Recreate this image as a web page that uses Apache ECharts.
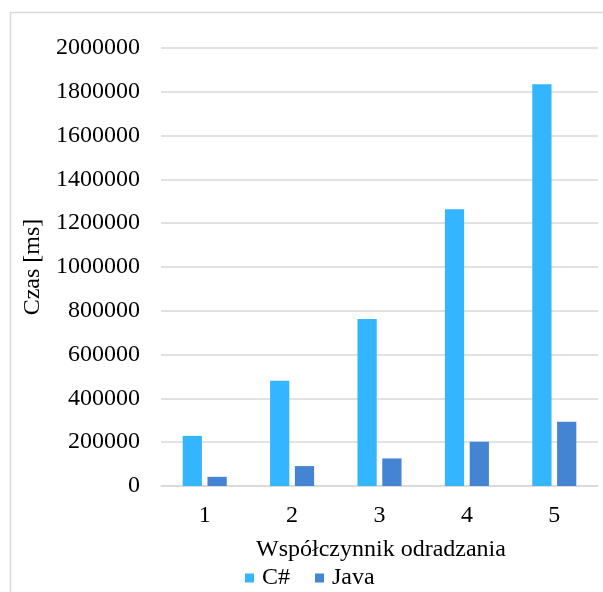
<!DOCTYPE html>
<html>
<head>
<meta charset="utf-8">
<script src="https://cdn.jsdelivr.net/npm/echarts@6/dist/echarts.min.js"></script>
<style>
  html, body { margin: 0; padding: 0; background: #ffffff; }
  #chart { width: 603px; height: 592px; }
</style>
</head>
<body>
<div id="chart"></div>
<script>
// Respawn factor categories and measured times (ms)
const categories = ['1', '2', '3', '4', '5'];
const csharpTimes = [229000, 481000, 763000, 1264000, 1834000];
const javaTimes = [42000, 91000, 126000, 202000, 293000];
const seriesNames = ['C#', 'Java'];
const yAxisName = 'Czas [ms]';
const xAxisName = 'Współczynnik odradzania';

const serif = "'Liberation Serif', 'Times New Roman', serif";
const gridColor = '#d9d9d9';
const fontSize = 24;

const chart = echarts.init(document.getElementById('chart'), null, { renderer: 'canvas' });

chart.setOption({
  animation: false,
  backgroundColor: '#ffffff',
  grid: { left: 161, right: 5, top: 48, bottom: 106 },
  legend: {
    data: seriesNames,
    left: 245,
    top: 566,
    padding: 0,
    itemWidth: 9,
    itemHeight: 9,
    itemGap: 25,
    icon: 'rect',
    textStyle: { fontFamily: serif, fontSize: fontSize, color: '#000000', padding: [0, 0, 0, 3] }
  },
  xAxis: {
    type: 'category',
    data: categories,
    axisLine: { show: true, lineStyle: { color: gridColor, width: 1.5 } },
    axisTick: { show: false },
    axisLabel: { fontFamily: serif, fontSize: fontSize, color: '#000000', margin: 18 },
    splitLine: { show: false }
  },
  yAxis: {
    type: 'value',
    min: 0,
    max: 2000000,
    interval: 200000,
    name: yAxisName,
    nameLocation: 'middle',
    nameGap: 109,
    nameTextStyle: { fontFamily: serif, fontSize: fontSize, color: '#000000' },
    axisLine: { show: false },
    axisTick: { show: false },
    axisLabel: {
      fontFamily: serif, fontSize: fontSize, color: '#000000', margin: 21,
      formatter: (v) => String(v)
    },
    splitLine: { lineStyle: { color: gridColor, width: 1.5 } }
  },
  graphic: [
    {
      type: 'rect',
      left: 8, top: 10,
      shape: { width: 700, height: 700 },
      style: { fill: 'none', stroke: '#d9d9d9', lineWidth: 1.5 },
      silent: true
    },
    {
      type: 'text',
      left: 256,
      top: 538,
      style: { text: xAxisName, font: fontSize + 'px ' + serif, fill: '#000000' }
    }
  ],
  series: [
    {
      name: seriesNames[0],
      type: 'bar',
      data: csharpTimes,
      barWidth: '22%',
      barGap: '29%',
      itemStyle: { color: '#33b5ff' }
    },
    {
      name: seriesNames[1],
      type: 'bar',
      data: javaTimes,
      barWidth: '22%',
      barGap: '29%',
      itemStyle: { color: '#4584d3' }
    }
  ]
});
</script>
</body>
</html>
